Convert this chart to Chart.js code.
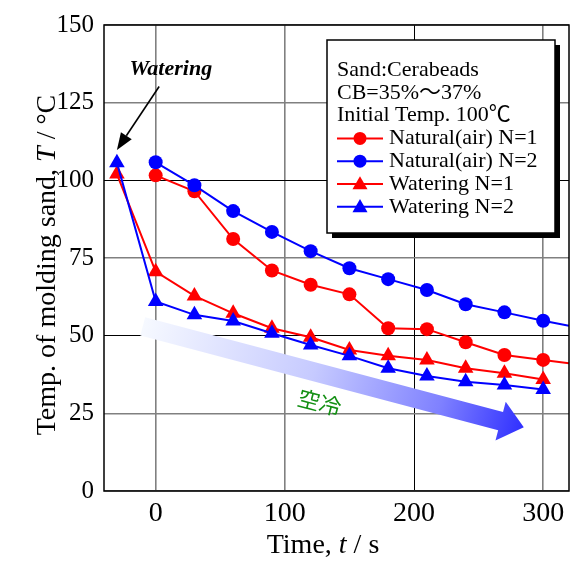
<!DOCTYPE html>
<html>
<head>
<meta charset="utf-8">
<script src="https://cdn.jsdelivr.net/npm/chart.js@4/dist/chart.umd.min.js"></script>
<style>
  html, body { margin: 0; padding: 0; background: #fff; }
  canvas { display: block; }
</style>
</head>
<body>
<canvas id="c" width="579" height="564"></canvas>
<script>
// Sand temperature during cooling (time in s, temperature in °C)
const naturalTimes  = [0, 30, 60, 90, 120, 150, 180, 210, 240, 270, 300, 320];
const natural1      = [101.6, 96.5, 81.1, 71.0, 66.4, 63.3, 52.4, 52.1, 47.9, 43.8, 42.2, 41.1];
const natural2      = [105.8, 98.4, 90.1, 83.4, 77.2, 71.7, 68.2, 64.7, 60.1, 57.5, 54.8, 53.2];
const wateringTimes = [-30, 0, 30, 60, 90, 120, 150, 180, 210, 240, 270, 300];
const watering1     = [102.0, 70.6, 62.8, 57.2, 52.4, 49.5, 45.4, 43.5, 42.2, 39.5, 37.9, 35.9];
const watering2     = [105.7, 61.0, 56.7, 54.7, 50.8, 47.0, 43.5, 39.5, 37.0, 35.2, 34.1, 32.7];
const xTicks = [0, 100, 200, 300];
const yTicks = [0, 25, 50, 75, 100, 125, 150];
const seriesNames = ['Natural(air) N=1', 'Natural(air) N=2', 'Watering N=1', 'Watering N=2'];
const noteLines = ['Sand:Cerabeads', 'CB=35%～37%', 'Initial Temp. 100℃'];

const SERIF = "'Liberation Serif', 'Times New Roman', 'Noto Sans CJK JP', serif";
const RED = '#ff0000', BLUE = '#0000ff';
const LAST_MARKED = 300;

const toPoints = (xs, ys) => xs.map((x, i) => ({ x: x, y: ys[i] }));

function series(label, xs, ys, color, style, r, order) {
  return {
    label: label,
    data: toPoints(xs, ys),
    borderColor: color,
    backgroundColor: color,
    borderWidth: 2,
    pointStyle: style,
    pointRadius: c => (c.raw && c.raw.x > LAST_MARKED ? 0 : r),
    pointHoverRadius: c => (c.raw && c.raw.x > LAST_MARKED ? 0 : r),
    pointBorderWidth: 0,
    tension: 0,
    clip: 0,
    order: order
  };
}

function marker(ctx, style, x, y, r, color) {
  ctx.fillStyle = color;
  ctx.beginPath();
  if (style === 'circle') {
    ctx.arc(x, y, r, 0, Math.PI * 2);
  } else {
    const s = Math.sin(Math.PI / 3);
    ctx.moveTo(x, y - r);
    ctx.lineTo(x + r * s, y + r / 2);
    ctx.lineTo(x - r * s, y + r / 2);
    ctx.closePath();
  }
  ctx.fill();
}

function richText(ctx, segs, x, y, align) {
  let total = 0;
  const widths = segs.map(s => { ctx.font = s.font; const w = ctx.measureText(s.t).width; total += w; return w; });
  let cx = align === 'center' ? x - total / 2 : x;
  ctx.textAlign = 'left';
  segs.forEach((s, i) => { ctx.font = s.font; ctx.fillText(s.t, cx, y); cx += widths[i]; });
}

const decor = {
  id: 'decor',
  beforeDatasetsDraw(chart) {
    const ctx = chart.ctx, xs = chart.scales.x, ys = chart.scales.y;
    // broad cooling arrow
    const S = { x: xs.getPixelForValue(-10), y: ys.getPixelForValue(53) };
    const T = { x: xs.getPixelForValue(285), y: ys.getPixelForValue(20.5) };
    const dx = T.x - S.x, dy = T.y - S.y, len = Math.hypot(dx, dy);
    const u = { x: dx / len, y: dy / len }, n = { x: -u.y, y: u.x };
    const hl = 24, hw = 20, bw = 9.5;
    const B = { x: T.x - u.x * hl, y: T.y - u.y * hl };
    const g = ctx.createLinearGradient(S.x, S.y, T.x, T.y);
    g.addColorStop(0, '#f6f9ff');
    g.addColorStop(0.45, '#c6caff');
    g.addColorStop(0.78, '#7f81ff');
    g.addColorStop(1, '#3030ff');
    ctx.save();
    ctx.fillStyle = g;
    ctx.beginPath();
    ctx.moveTo(S.x + n.x * bw, S.y + n.y * bw);
    ctx.lineTo(B.x + n.x * bw, B.y + n.y * bw);
    ctx.lineTo(B.x + n.x * hw, B.y + n.y * hw);
    ctx.lineTo(T.x, T.y);
    ctx.lineTo(B.x - n.x * hw, B.y - n.y * hw);
    ctx.lineTo(B.x - n.x * bw, B.y - n.y * bw);
    ctx.lineTo(S.x - n.x * bw, S.y - n.y * bw);
    ctx.closePath();
    ctx.fill();
    // label under the arrow
    const L = { x: xs.getPixelForValue(127), y: ys.getPixelForValue(28.5) };
    ctx.translate(L.x, L.y);
    ctx.rotate(Math.atan2(dy, dx));
    ctx.fillStyle = '#138f13';
    ctx.font = "22px 'Noto Sans CJK JP', sans-serif";
    ctx.textAlign = 'center';
    ctx.textBaseline = 'middle';
    ctx.fillText('空冷', 0, 0);
    ctx.restore();
  },
  afterDatasetsDraw(chart) {
    const ctx = chart.ctx, a = chart.chartArea, xs = chart.scales.x, ys = chart.scales.y;
    ctx.save();
    // plot frame
    ctx.strokeStyle = '#000';
    ctx.lineWidth = 1.5;
    ctx.strokeRect(a.left, a.top, a.right - a.left, a.bottom - a.top);

    // "Watering" pointer
    const P0 = { x: xs.getPixelForValue(2.7), y: ys.getPixelForValue(130.2) };
    const P1 = { x: xs.getPixelForValue(-30), y: ys.getPixelForValue(109.8) };
    const ang = Math.atan2(P1.y - P0.y, P1.x - P0.x);
    const hl = 17, hw = 6.5;
    const bx = P1.x - Math.cos(ang) * hl, by = P1.y - Math.sin(ang) * hl;
    ctx.strokeStyle = '#000';
    ctx.lineWidth = 1.6;
    ctx.beginPath(); ctx.moveTo(P0.x, P0.y); ctx.lineTo(bx, by); ctx.stroke();
    ctx.fillStyle = '#000';
    ctx.beginPath();
    ctx.moveTo(P1.x, P1.y);
    ctx.lineTo(bx - Math.sin(ang) * hw, by + Math.cos(ang) * hw);
    ctx.lineTo(bx + Math.sin(ang) * hw, by - Math.cos(ang) * hw);
    ctx.closePath(); ctx.fill();
    ctx.font = "bold italic 22px " + SERIF;
    ctx.textAlign = 'center';
    ctx.textBaseline = 'middle';
    ctx.fillText('Watering', xs.getPixelForValue(11.7), ys.getPixelForValue(135.7));

    // legend box with shadow
    const bl = 327, bt = 40, br = 555, bb = 233;
    ctx.fillStyle = '#000';
    ctx.fillRect(bl + 5, bt + 5, br - bl, bb - bt);
    ctx.fillStyle = '#fff';
    ctx.fillRect(bl, bt, br - bl, bb - bt);
    ctx.lineWidth = 1.5;
    ctx.strokeRect(bl, bt, br - bl, bb - bt);
    ctx.fillStyle = '#000';
    ctx.font = "22px " + SERIF;
    ctx.textAlign = 'left';
    ctx.textBaseline = 'middle';
    const rowH = 22.8, row0 = 70;
    noteLines.forEach((t, i) => ctx.fillText(t, 337, row0 + i * rowH));
    const legendStyles = [['circle', RED, 6.5], ['circle', BLUE, 6.5], ['triangle', RED, 8.7], ['triangle', BLUE, 8.7]];
    seriesNames.forEach((name, i) => {
      const y = row0 + (i + 3) * rowH;
      const [st, col, r] = legendStyles[i];
      ctx.strokeStyle = col;
      ctx.lineWidth = 2;
      ctx.beginPath(); ctx.moveTo(337, y); ctx.lineTo(383, y); ctx.stroke();
      marker(ctx, st, 360, st === 'circle' ? y : y + 1, r, col);
      ctx.fillStyle = '#000';
      ctx.fillText(name, 389, y);
    });

    // axis titles
    ctx.fillStyle = '#000';
    ctx.textBaseline = 'alphabetic';
    const up = "28px " + SERIF, it = "italic 28px " + SERIF;
    richText(ctx, [{ t: 'Time, ', font: up }, { t: 't', font: it }, { t: ' / s', font: up }], 323, 553, 'center');
    ctx.translate(55, 265);
    ctx.rotate(-Math.PI / 2);
    richText(ctx, [{ t: 'Temp. of molding sand, ', font: up }, { t: 'T', font: it }, { t: ' / °C', font: up }], 0, 0, 'center');
    ctx.restore();
  }
};

new Chart(document.getElementById('c'), {
  type: 'line',
  data: {
    datasets: [
      series(seriesNames[0], naturalTimes, natural1, RED, 'circle', 7, 1),
      series(seriesNames[1], naturalTimes, natural2, BLUE, 'circle', 7, 0),
      series(seriesNames[2], wateringTimes, watering1, RED, 'triangle', 9, 1),
      series(seriesNames[3], wateringTimes, watering2, BLUE, 'triangle', 9, 0)
    ]
  },
  options: {
    responsive: false,
    animation: false,
    devicePixelRatio: 1,
    layout: { padding: { top: 25, right: 10, left: 0, bottom: 0 } },
    plugins: { legend: { display: false }, tooltip: { enabled: false } },
    scales: {
      x: {
        type: 'linear',
        min: -40, max: 320,
        afterBuildTicks: s => { s.ticks = xTicks.map(v => ({ value: v })); },
        afterFit: s => { s.height = 73; },
        border: { display: false },
        grid: {
          drawTicks: false,
          color: c => (c.tick && c.tick.value === 200 ? '#000' : '#808080'),
          lineWidth: c => (c.tick && c.tick.value === 200 ? 1 : 1.6)
        },
        ticks: { color: '#000', padding: 6, maxRotation: 0, autoSkip: false, font: { family: SERIF, size: 28 } }
      },
      y: {
        min: 0, max: 150,
        afterBuildTicks: s => { s.ticks = yTicks.map(v => ({ value: v })); },
        afterFit: s => { s.width = 104; },
        border: { display: false },
        grid: {
          drawTicks: false,
          color: c => (c.tick && (c.tick.value === 50 || c.tick.value === 100) ? '#000' : '#808080'),
          lineWidth: c => (c.tick && (c.tick.value === 50 || c.tick.value === 100) ? 1 : 1.6)
        },
        ticks: { color: '#000', padding: 10, autoSkip: false, font: { family: SERIF, size: 25 } }
      }
    }
  },
  plugins: [decor]
});
</script>
</body>
</html>
